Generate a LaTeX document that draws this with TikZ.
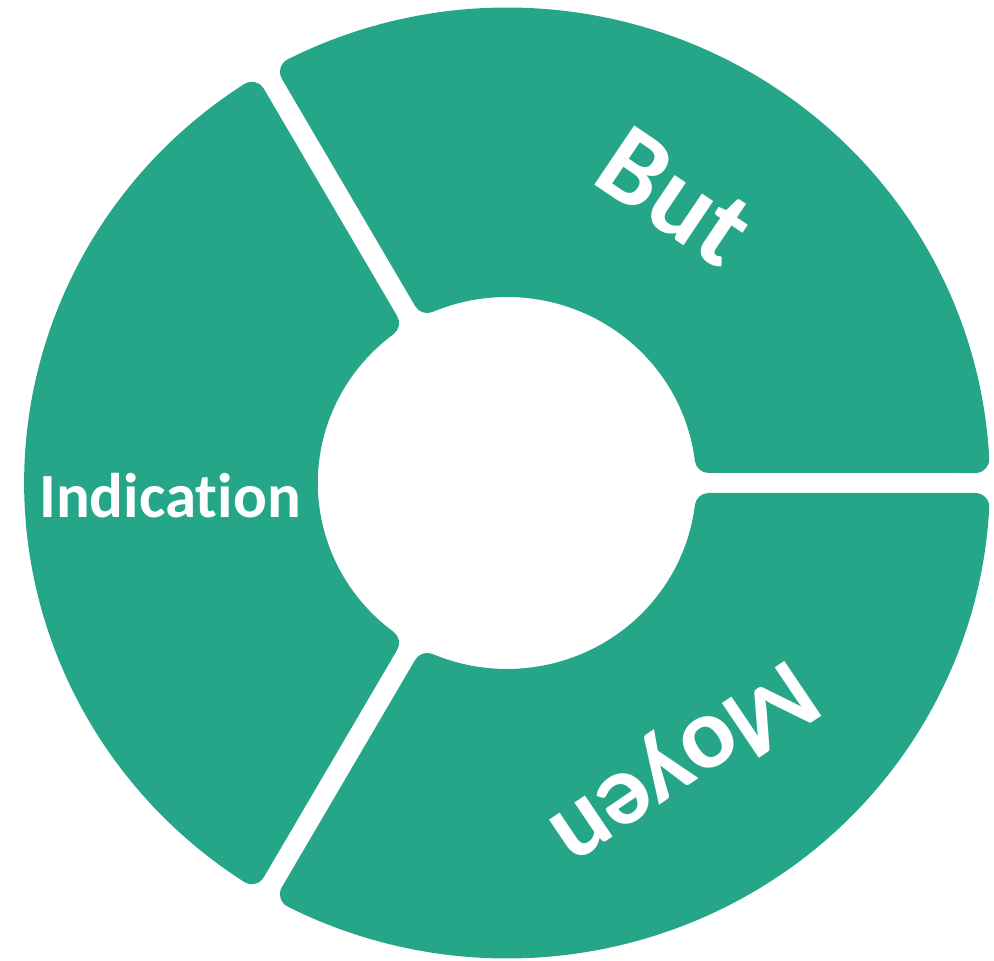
\documentclass[tikz,border=0pt]{standalone}
\usepackage{fontspec}
\setmainfont{Carlito}[Ligatures={NoCommon}, RawFeature={-liga}]
\definecolor{segcol}{HTML}{26A688}
\newcommand\segRo{461.5}
\newcommand\segRi{200}
\newcommand\segDd{24}
\newcommand\donutseg[1]{%
  \pgfmathsetmacro\segA{#1+asin(\segDd/\segRo)}%
  \pgfmathsetmacro\segB{#1+120-asin(\segDd/\segRo)}%
  \pgfmathsetmacro\segC{#1+120-asin(\segDd/\segRi)}%
  \pgfmathsetmacro\segD{#1+asin(\segDd/\segRi)}%
  \filldraw[seg] (\segA:\segRo) arc[start angle=\segA, end angle=\segB, radius=\segRo]
    -- (\segC:\segRi) arc[start angle=\segC, end angle=\segD, radius=\segRi] -- cycle;
}
\tikzset{
  seg/.style={fill=segcol, draw=segcol, line width=28pt, line join=round},
  lbl/.style={text=white, inner sep=0pt, anchor=base}
}
\begin{document}
\begin{tikzpicture}[x=1pt,y=1pt]
\useasboundingbox (0,0) rectangle (994,961);
\begin{scope}[shift={(507,478)}, xscale=1.016]
  \donutseg{0}
  \donutseg{120}
  \donutseg{240}
\end{scope}
\node[lbl, font=\bfseries\fontsize{110}{110}\selectfont, rotate=-34] (but) at (655,735) {But};
\node[lbl, font=\bfseries\fontsize{102}{102}\selectfont, rotate=214] (moyen) at (668,221) {Moyen};
\node[lbl, font=\bfseries\fontsize{63}{63}\selectfont] (indication) at (170,443) {Indication};
\end{tikzpicture}
\end{document}
